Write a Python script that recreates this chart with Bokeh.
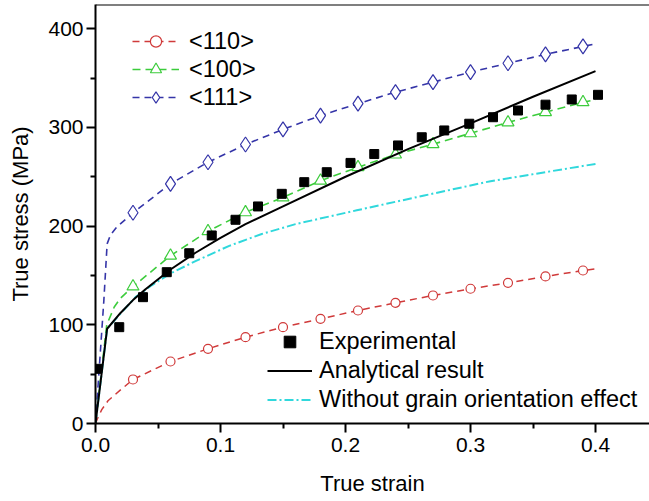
from bokeh.plotting import figure
from bokeh.models import (Range1d, FixedTicker, Legend, LegendItem, Span)
from bokeh.embed import file_html
from bokeh.resources import INLINE

# ---- data ----
mark_x = [0.03, 0.06, 0.09, 0.12, 0.15, 0.18, 0.21, 0.24, 0.27, 0.30, 0.33, 0.36, 0.39]
m110 = [44.6, 62.8, 75.7, 87.5, 97.6, 106, 114.5, 122.3, 129.7, 136.5, 142.5, 149, 155]
m100 = [138.8, 170, 194.8, 214, 229, 246, 259.7, 272.5, 283, 294, 305, 315.4, 325.5]
m111 = [213.5, 242.8, 264.7, 282.7, 298, 312, 324, 335.7, 345.8, 356, 365, 374, 382]

c110_x = [0, 0.002, 0.005, 0.01, 0.02] + mark_x + [0.40]
c110_y = [0, 6, 14, 23, 34] + m110 + [156.7]
c100_x = [0, 0.009, 0.015, 0.02] + mark_x + [0.40]
c100_y = [0, 100, 118, 127] + m100 + [328]
c111_x = [0, 0.0067, 0.0093, 0.012, 0.017] + mark_x + [0.40]
c111_y = [0, 125, 182, 191, 199] + m111 + [384.7]

exp_x = [0.0013, 0.019, 0.038, 0.057, 0.075, 0.093, 0.112, 0.130, 0.149, 0.167, 0.185,
         0.204, 0.223, 0.242, 0.261, 0.279, 0.299, 0.318, 0.338, 0.36, 0.381, 0.402]
exp_y = [55.4, 97.6, 128, 153.3, 172.5, 190.5, 206.4, 219.9, 232.7, 244.5, 254.6,
         264, 273, 281.7, 290, 296.9, 303.7, 310.3, 317.1, 323, 328.3, 333]

ana_x = [0, 0.0093, 0.02, 0.03, 0.04, 0.06, 0.08, 0.10, 0.12, 0.15, 0.20, 0.25, 0.30, 0.35, 0.40]
ana_y = [0, 96, 112, 125, 136, 156, 173, 188, 202, 220, 250, 278, 304, 331, 357]

wo_x = [0, 0.0093, 0.019, 0.032, 0.045, 0.06, 0.08, 0.107, 0.133, 0.16, 0.209, 0.263, 0.316, 0.40]
wo_y = [0, 96, 110, 128, 140, 152, 164.5, 180, 192, 202, 216, 231, 245.5, 263]

x_ticks = [0.0, 0.1, 0.2, 0.3, 0.4]
x_tick_labels = ["0.0", "0.1", "0.2", "0.3", "0.4"]
x_minor = [0.05, 0.15, 0.25, 0.35]
y_ticks = [0, 100, 200, 300, 400]
y_tick_labels = ["0", "100", "200", "300", "400"]
y_minor = [50, 150, 250, 350]

names_top = ["<110>", "<100>", "<111>"]
names_bottom = ["Experimental", "Analytical result", "Without grain orientation effect"]

FONT = "Liberation Sans"
RED = "#d03a3a"
GREEN = "#3ccc3c"
BLUE = "#3535a8"
CYAN = "#30d8dc"

X_END = 0.4432
Y_END = 424.5

p = figure(frame_width=554, frame_height=419, output_backend="svg", toolbar_location=None,
           x_range=Range1d(0, X_END), y_range=Range1d(0, Y_END),
           min_border_left=95, min_border_right=0, min_border_top=4)
p.xgrid.visible = False
p.ygrid.visible = False
p.outline_line_color = None
p.background_fill_color = "white"

# curves
l110 = p.line(c110_x, c110_y, line_color=RED, line_width=1.5, line_dash="7 5")
s110 = p.scatter(mark_x, m110, marker="circle", size=9, fill_color="white", line_color=RED, line_width=1.2)
l100 = p.line(c100_x, c100_y, line_color=GREEN, line_width=1.6, line_dash="8 5")
s100 = p.scatter(mark_x, m100, marker="triangle", size=12, fill_color="white", line_color=GREEN, line_width=1.2)
l111 = p.line(c111_x, c111_y, line_color=BLUE, line_width=1.6, line_dash="7 5")
s111 = p.scatter(mark_x, m111, marker="diamond", size=15, fill_color="white", line_color=BLUE, line_width=1.2)

lwo = p.line(wo_x, wo_y, line_color=CYAN, line_width=2, line_dash="9 3 2 3")
lana = p.line(ana_x, ana_y, line_color="black", line_width=2)
sexp = p.scatter(exp_x, exp_y, marker="square", size=9, fill_color="black", line_color="black")

# top border line
p.add_layout(Span(location=Y_END, dimension="width", line_color="black", line_width=2))

# axes
for ax, ticks, minor, labels in ((p.xaxis[0], x_ticks, x_minor, x_tick_labels),
                                 (p.yaxis[0], y_ticks, y_minor, y_tick_labels)):
    ax.ticker = FixedTicker(ticks=ticks, minor_ticks=minor)
    ax.major_label_overrides = dict(zip(ticks, labels))
    ax.major_label_text_font = FONT
    ax.major_label_text_font_size = "21px"
    ax.major_label_text_color = "black"
    ax.axis_label_text_font = FONT
    ax.axis_label_text_font_size = "22px"
    ax.axis_label_text_font_style = "normal"
    ax.axis_label_text_color = "black"
    ax.axis_line_width = 2
    ax.axis_line_color = "black"
    ax.major_tick_out = 9
    ax.major_tick_in = 0
    ax.minor_tick_out = 5
    ax.minor_tick_in = 0
    ax.major_tick_line_width = 2
    ax.minor_tick_line_width = 2

p.xaxis.axis_label = "True strain"
p.yaxis.axis_label = "True stress (MPa)"
p.xaxis.major_label_standoff = 5
p.xaxis.axis_label_standoff = 16
p.yaxis.major_label_standoff = 3
p.yaxis.axis_label_standoff = 12

leg1 = Legend(items=[LegendItem(label=names_top[0], renderers=[l110, s110]),
                     LegendItem(label=names_top[1], renderers=[l100, s100]),
                     LegendItem(label=names_top[2], renderers=[l111, s111])],
              location=(37, 312))
leg2 = Legend(items=[LegendItem(label=names_bottom[0], renderers=[sexp]),
                     LegendItem(label=names_bottom[1], renderers=[lana]),
                     LegendItem(label=names_bottom[2], renderers=[lwo])],
              location=(172, 9))
for lg, gw, gh, so in ((leg1, 47, 28, 10), (leg2, 45, 29, 7)):
    lg.border_line_color = None
    lg.background_fill_alpha = 0
    lg.padding = 0
    lg.margin = 0
    lg.spacing = 0
    lg.glyph_width = gw
    lg.glyph_height = gh
    lg.label_height = gh
    lg.label_standoff = so
    lg.label_text_font = FONT
    lg.label_text_font_size = "23.5px"
    lg.label_text_color = "black"
    lg.label_text_baseline = "middle"
    p.add_layout(lg, "center")

open("out.html", "w").write(file_html(p, INLINE))
